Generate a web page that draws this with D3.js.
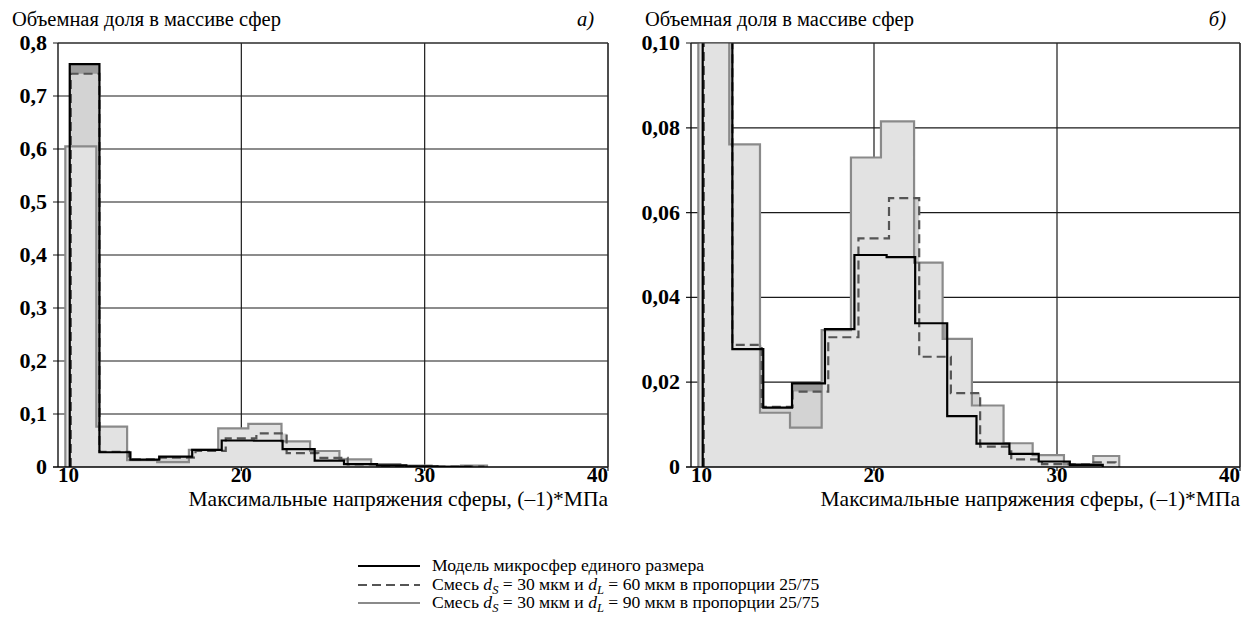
<!DOCTYPE html>
<html><head><meta charset="utf-8">
<script src="https://cdn.jsdelivr.net/npm/d3@7"></script>
<style>
body{margin:0;background:#fff} svg{display:block}
text{font-family:"Liberation Serif","Tinos","DejaVu Serif","Noto Serif",serif;}
</style>
</head><body>
<svg id="c" width="1241" height="622"></svg>
<script>
// ---- data ----
const xTickValues = [10, 20, 30, 40];
const yTicksA = [0, 0.1, 0.2, 0.3, 0.4, 0.5, 0.6, 0.7, 0.8];
const yLabelsA = ["0", "0,1", "0,2", "0,3", "0,4", "0,5", "0,6", "0,7", "0,8"];
const yTicksB = [0, 0.02, 0.04, 0.06, 0.08, 0.10];
const yLabelsB = ["0", "0,02", "0,04", "0,06", "0,08", "0,10"];

// single-size microsphere model (black)
const uniformEdges  = [10.64, 12.26, 13.95, 15.52, 17.32, 18.93, 20.69, 22.25, 24.0, 25.6, 27.4, 29.0, 30.7, 32.5];
const uniformValues = [0.760, 0.0278, 0.0140, 0.0197, 0.0325, 0.0500, 0.0495, 0.0339, 0.0120, 0.0055, 0.0031, 0.0013, 0.0005];
// mix dS=30, dL=60 (dashed)
const mix60Edges  = [10.70, 12.26, 13.86, 15.55, 17.5, 19.15, 20.82, 22.47, 24.2, 25.8, 27.5, 29.18, 30.9, 32.0, 33.2];
const mix60Values = [0.742, 0.0288, 0.0142, 0.0178, 0.0306, 0.0539, 0.0634, 0.0260, 0.0174, 0.0048, 0.0018, 0.0007, 0.0006, 0.0011];
// mix dS=30, dL=90 (gray)
const mix90Edges  = [10.40, 12.09, 13.77, 15.41, 17.14, 18.74, 20.38, 22.19, 23.75, 25.35, 27.08, 28.67, 30.38, 31.98, 33.4];
const mix90Values = [0.605, 0.0761, 0.0128, 0.0093, 0.0323, 0.0730, 0.0815, 0.0482, 0.0302, 0.0145, 0.0056, 0.0028, 0.0006, 0.0026];

const legendLabels = ["Модель микросфер единого размера", "60", "90"];

// ---- drawing ----
const svg = d3.select("#c");
const series = [
  {edges: uniformEdges, values: uniformValues, fill: "#9c9c9c", stroke: "#000", dash: null},
  {edges: mix60Edges, values: mix60Values, fill: "#d3d3d3", stroke: "#555", dash: "9,5"},
  {edges: mix90Edges, values: mix90Values, fill: "#e2e2e2", stroke: "#8a8a8a", dash: null}
];

function stepPoints(edges, values) {
  const pts = [[edges[0], 0]];
  values.forEach((v, i) => { pts.push([edges[i], v]); pts.push([edges[i + 1], v]); });
  pts.push([edges[edges.length - 1], 0]);
  return pts;
}

function panel(id, left, right, top, bottom, yMax, yTicks, yLabels, tag) {
  const g = svg.append("g");
  const x = d3.scaleLinear().domain([10, 40]).range([left, right]);
  const y = d3.scaleLinear().domain([0, yMax]).range([bottom, top]);

  svg.append("clipPath").attr("id", id).append("rect")
    .attr("x", left).attr("y", top).attr("width", right - left).attr("height", bottom - top);

  g.append("g").selectAll("line").data(yTicks.slice(1)).join("line")
    .attr("x1", left - 5).attr("x2", right).attr("y1", d => y(d)).attr("y2", d => y(d))
    .attr("stroke", "#1a1a1a").attr("stroke-width", 1.2);
  g.append("g").selectAll("line").data(xTickValues.slice(1)).join("line")
    .attr("x1", d => x(d)).attr("x2", d => x(d)).attr("y1", top).attr("y2", bottom + 4)
    .attr("stroke", "#1a1a1a").attr("stroke-width", 1.2);

  const cg = g.append("g").attr("clip-path", `url(#${id})`);
  const area = d3.area().x(d => x(d[0])).y0(y(0)).y1(d => y(d[1]));
  const line = d3.line().x(d => x(d[0])).y(d => y(d[1]));
  series.forEach(s => {
    cg.append("path").attr("d", area(stepPoints(s.edges, s.values))).attr("fill", s.fill);
  });
  [2, 1, 0].forEach(i => {
    const s = series[i];
    cg.append("path").attr("d", line(stepPoints(s.edges, s.values)))
      .attr("fill", "none").attr("stroke", s.stroke).attr("stroke-width", 2.2)
      .attr("stroke-dasharray", s.dash);
  });

  g.append("line").attr("x1", left).attr("x2", left).attr("y1", top).attr("y2", bottom).attr("stroke", "#000").attr("stroke-width", 1.3);
  g.append("line").attr("x1", left - 5).attr("x2", right).attr("y1", bottom).attr("y2", bottom).attr("stroke", "#000").attr("stroke-width", 1.3);
  g.append("line").attr("x1", left).attr("x2", right).attr("y1", top).attr("y2", top).attr("stroke", "#333").attr("stroke-width", 1.2);
  g.append("line").attr("x1", right).attr("x2", right).attr("y1", top).attr("y2", bottom).attr("stroke", "#333").attr("stroke-width", 1.2);

  g.append("g").selectAll("text").data(yTicks).join("text")
    .attr("x", left - 11).attr("y", d => y(d) + 7)
    .attr("text-anchor", "end").attr("font-weight", "bold").attr("font-size", 22)
    .text((d, i) => yLabels[i]);
  g.append("g").selectAll("text").data(xTickValues).join("text")
    .attr("x", d => x(d)).attr("y", bottom + 15)
    .attr("text-anchor", (d, i) => i === 0 ? "start" : (i === xTickValues.length - 1 ? "end" : "middle"))
    .attr("font-weight", "bold").attr("font-size", 21)
    .text(d => d);
  g.append("text").attr("x", right).attr("y", bottom + 39).attr("text-anchor", "end")
    .attr("font-size", 21.5).text("Максимальные напряжения сферы, (–1)*МПа");
  g.append("text").attr("x", left - 46).attr("y", top - 17)
    .attr("font-size", 20.5).text("Объемная доля в массиве сфер");
  g.append("text").attr("x", right - 14).attr("y", top - 17).attr("text-anchor", "end")
    .attr("font-style", "italic").attr("font-size", 20.5).text(tag);
}

panel("clipA", 58, 608, 43, 467, 0.8, yTicksA, yLabelsA, "а)");
panel("clipB", 691, 1240, 43, 467, 0.10, yTicksB, yLabelsB, "б)");

const lg = svg.append("g").attr("font-size", 17.6);
const rows = [566, 585, 603];
series.forEach((s, i) => {
  lg.append("line").attr("x1", 358).attr("x2", 420).attr("y1", rows[i]).attr("y2", rows[i])
    .attr("stroke", s.stroke).attr("stroke-width", 2.2).attr("stroke-dasharray", s.dash);
});
lg.append("text").attr("x", 432).attr("y", rows[0] + 5).text(legendLabels[0]);
[1, 2].forEach(i => {
  const t = lg.append("text").attr("x", 432).attr("y", rows[i] + 5);
  t.append("tspan").text("Смесь ");
  t.append("tspan").attr("font-style", "italic").text("d");
  t.append("tspan").attr("font-style", "italic").attr("font-size", 12.5).attr("dy", 4).text("S");
  t.append("tspan").attr("dy", -4).text(" = 30 мкм и ");
  t.append("tspan").attr("font-style", "italic").text("d");
  t.append("tspan").attr("font-style", "italic").attr("font-size", 12.5).attr("dy", 4).text("L");
  t.append("tspan").attr("dy", -4).text(` = ${legendLabels[i]} мкм в пропорции 25/75`);
});
</script>
</body></html>
